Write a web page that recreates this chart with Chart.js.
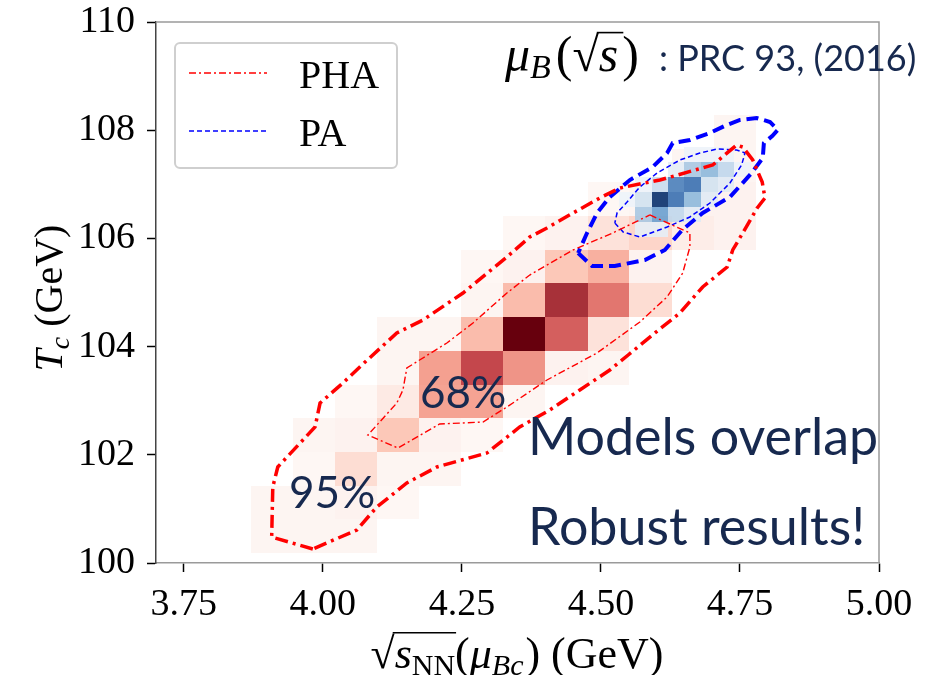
<!DOCTYPE html>
<html>
<head>
<meta charset="utf-8">
<script src="https://cdn.jsdelivr.net/npm/chart.js@4.4.0/dist/chart.umd.min.js"></script>
<style>
  body { margin: 0; background: #fff; }
</style>
</head>
<body>
<canvas id="tcChart" width="936" height="675"></canvas>
<script>
// ticks
const xTicks = [3.75, 4.00, 4.25, 4.50, 4.75, 5.00];
const yTicks = [100, 102, 104, 106, 108, 110];

// PHA posterior histogram (rows bottom -> top)
const redXEdges = [3.870, 3.946, 4.021, 4.097, 4.173, 4.248, 4.324, 4.400, 4.476, 4.551, 4.627, 4.703, 4.778];
const redYEdges = [100.185, 100.808, 101.431, 102.054, 102.677, 103.299, 103.922, 104.545, 105.168, 105.791, 106.414, 107.037, 107.660, 108.283];
const redDensity = [
  [0.03, 0.03, 0.03, 0, 0, 0, 0, 0, 0, 0, 0, 0],
  [0.03, 0.03, 0.04, 0.02, 0, 0, 0, 0, 0, 0, 0, 0],
  [0, 0.02, 0.12, 0.03, 0.03, 0, 0, 0, 0, 0, 0, 0],
  [0, 0.03, 0.04, 0.20, 0.04, 0.02, 0, 0, 0, 0, 0, 0],
  [0, 0, 0.02, 0.07, 0.38, 0.38, 0.03, 0, 0, 0, 0, 0],
  [0, 0, 0, 0.03, 0.40, 0.72, 0.45, 0.04, 0.03, 0, 0, 0],
  [0, 0, 0, 0.03, 0.03, 0.25, 1.00, 0.65, 0.10, 0, 0, 0],
  [0, 0, 0, 0, 0, 0.03, 0.25, 0.82, 0.58, 0.12, 0, 0],
  [0, 0, 0, 0, 0, 0.02, 0.04, 0.20, 0.30, 0.04, 0, 0],
  [0, 0, 0, 0, 0, 0, 0.02, 0.04, 0.10, 0.15, 0.06, 0.04],
  [0, 0, 0, 0, 0, 0, 0, 0, 0.02, 0.03, 0.04, 0.04],
  [0, 0, 0, 0, 0, 0, 0, 0, 0, 0, 0.03, 0.03],
  [0, 0, 0, 0, 0, 0, 0, 0, 0, 0, 0, 0.03]
];

// PA posterior histogram (rows bottom -> top)
const blueXEdges = [4.502, 4.532, 4.5615, 4.5915, 4.6214, 4.650, 4.680, 4.710, 4.740, 4.770];
const blueYEdges = [106.031, 106.309, 106.586, 106.863, 107.141, 107.418, 107.695];
const blueDensity = [
  [0, 0, 0.05, 0.05, 0, 0, 0, 0, 0],
  [0, 0, 0.35, 0.55, 0.25, 0.08, 0, 0, 0],
  [0, 0.03, 0.15, 1.00, 0.75, 0.45, 0.08, 0, 0],
  [0, 0, 0.03, 0.20, 0.70, 0.75, 0.15, 0.08, 0],
  [0, 0, 0, 0, 0.06, 0.35, 0.45, 0.25, 0.03],
  [0, 0, 0, 0, 0, 0.03, 0.03, 0.03, 0]
];

// credible-region contours
const pha95X = [3.982, 3.908, 3.910, 3.919, 3.986, 3.995, 4.036, 4.076, 4.133, 4.180, 4.252, 4.331, 4.372, 4.403, 4.450, 4.498, 4.534, 4.606, 4.701, 4.744, 4.755, 4.773, 4.790, 4.795, 4.781, 4.755, 4.737, 4.727, 4.683, 4.642, 4.597, 4.549, 4.516, 4.462, 4.408, 4.354, 4.295, 4.205, 4.151, 4.097, 4.061, 3.982];
const pha95Y = [100.259, 100.481, 101.405, 101.775, 102.514, 102.957, 103.327, 103.715, 104.251, 104.492, 104.991, 105.656, 106.026, 106.192, 106.470, 106.747, 106.932, 107.079, 107.357, 107.726, 107.689, 107.449, 107.043, 106.747, 106.562, 106.100, 105.786, 105.471, 105.102, 104.621, 104.251, 103.845, 103.567, 103.198, 102.828, 102.514, 102.033, 101.775, 101.479, 101.035, 100.610, 100.259];
const pha68X = [4.588, 4.660, 4.660, 4.647, 4.619, 4.570, 4.493, 4.403, 4.331, 4.288, 4.210, 4.135, 4.081, 4.133, 4.144, 4.151, 4.174, 4.223, 4.270, 4.331, 4.372, 4.450, 4.521, 4.588];
const pha68Y = [106.433, 106.100, 105.841, 105.360, 104.917, 104.455, 103.882, 103.383, 102.884, 102.606, 102.569, 102.126, 102.366, 102.957, 103.198, 103.604, 103.752, 104.067, 104.436, 104.991, 105.323, 105.786, 106.100, 106.433];
const pa95X = [4.459, 4.484, 4.525, 4.579, 4.615, 4.646, 4.683, 4.732, 4.771, 4.791, 4.793, 4.808, 4.818, 4.804, 4.780, 4.750, 4.726, 4.696, 4.660, 4.629, 4.619, 4.593, 4.552, 4.516, 4.493, 4.475, 4.459];
const pa95Y = [105.730, 105.490, 105.490, 105.601, 105.786, 106.155, 106.470, 106.765, 107.209, 107.486, 107.763, 107.893, 108.004, 108.152, 108.226, 108.189, 108.096, 107.948, 107.819, 107.763, 107.578, 107.320, 107.079, 106.765, 106.470, 106.100, 105.730];
const pa68X = [4.525, 4.540, 4.570, 4.619, 4.660, 4.696, 4.732, 4.753, 4.759, 4.744, 4.709, 4.678, 4.642, 4.601, 4.570, 4.547, 4.529, 4.525];
const pa68Y = [106.285, 106.118, 106.026, 106.211, 106.396, 106.654, 107.024, 107.357, 107.579, 107.634, 107.652, 107.578, 107.449, 107.209, 106.950, 106.673, 106.470, 106.285];

const legendLabels = ['PHA', 'PA'];

const navy = '#17294f';
const serif = '"Liberation Serif", "DejaVu Serif", serif';
const sans = 'Lato, "Open Sans", sans-serif';

const toPoints = (xs, ys) => xs.map((x, i) => ({ x: x, y: ys[i] }));

// colour ramps
const redStops = [[0, '#fffaf8'], [0.03, '#fdf5f2'], [0.1, '#fde2da'], [0.2, '#fcc8b8'], [0.3, '#f8b0a0'],
  [0.4, '#f4a090'], [0.6, '#e0716b'], [0.72, '#c4474c'], [0.85, '#9e2a33'], [1, '#67000d']];
const blueStops = [[0, '#f7fbff'], [0.05, '#e6eef6'], [0.15, '#d2e2f0'], [0.25, '#c0d7ec'], [0.35, '#a8c8e2'],
  [0.45, '#8db8da'], [0.55, '#6aa0cf'], [0.7, '#4a80ba'], [0.75, '#3a70b0'], [1, '#08306b']];

function hexRgb(h) {
  return [1, 3, 5].map(i => parseInt(h.substr(i, 2), 16));
}
function colorAt(stops, v) {
  for (let i = 1; i < stops.length; i++) {
    if (v <= stops[i][0]) {
      const [v0, c0] = stops[i - 1], [v1, c1] = stops[i];
      const t = (v - v0) / (v1 - v0);
      const a = hexRgb(c0), b = hexRgb(c1);
      return 'rgb(' + a.map((c, k) => Math.round(c + (b[k] - c) * t)).join(',') + ')';
    }
  }
  return stops[stops.length - 1][1];
}

function drawCells(ctx, xs, ys, xe, ye, z, stops) {
  z.forEach((row, j) => row.forEach((v, i) => {
    if (!v) return;
    const x0 = Math.round(xs.getPixelForValue(xe[i])), x1 = Math.round(xs.getPixelForValue(xe[i + 1]));
    const y0 = Math.round(ys.getPixelForValue(ye[j])), y1 = Math.round(ys.getPixelForValue(ye[j + 1]));
    ctx.fillStyle = colorAt(stops, v);
    ctx.fillRect(x0, y1, x1 - x0, y0 - y1);
  }));
}

const heatmapPlugin = {
  id: 'heatmap',
  beforeDatasetsDraw(chart) {
    const { ctx, scales } = chart;
    ctx.save();
    drawCells(ctx, scales.x, scales.y, redXEdges, redYEdges, redDensity, redStops);
    ctx.globalAlpha = 0.9;
    drawCells(ctx, scales.x, scales.y, blueXEdges, blueYEdges, blueDensity, blueStops);
    ctx.restore();
  }
};

// text made of runs: {t, size, italic, dy, color, fam, sqrt, barEnd}
function runFont(r) {
  return (r.italic ? 'italic ' : '') + r.size + 'px ' + (r.fam || serif);
}
function drawRuns(ctx, runs, x, y, align) {
  let w = 0;
  runs.forEach(r => { ctx.font = runFont(r); r.w = ctx.measureText(r.t).width + (r.gap || 0); w += r.w; });
  let cx = align === 'center' ? x - w / 2 : x;
  let barX = null, barY = 0;
  ctx.textBaseline = 'alphabetic';
  ctx.textAlign = 'left';
  runs.forEach(r => {
    ctx.font = runFont(r);
    ctx.fillStyle = r.color || '#000';
    ctx.fillText(r.t, cx, y + (r.dy || 0));
    if (r.sqrt) { barX = cx + r.w * 0.92; barY = y - r.size * 0.80; }
    cx += r.w;
    if (r.barEnd && barX !== null) {
      ctx.save();
      ctx.strokeStyle = '#000';
      ctx.lineWidth = 1.6;
      ctx.beginPath();
      ctx.moveTo(barX, barY);
      ctx.lineTo(cx + 1, barY);
      ctx.stroke();
      ctx.restore();
      barX = null;
    }
  });
}

const decorPlugin = {
  id: 'decor',
  afterDraw(chart) {
    const { ctx, chartArea: a } = chart;
    ctx.save();

    // top and right spines
    ctx.strokeStyle = '#9a9a9a';
    ctx.lineWidth = 1.5;
    ctx.beginPath();
    ctx.moveTo(a.left, a.top);
    ctx.lineTo(a.right, a.top);
    ctx.lineTo(a.right, a.bottom);
    ctx.stroke();

    // legend
    ctx.fillStyle = 'rgba(255,255,255,0.85)';
    ctx.strokeStyle = '#cfcfcf';
    ctx.lineWidth = 2;
    ctx.beginPath();
    ctx.roundRect(175, 43, 222, 125, 5);
    ctx.fill();
    ctx.stroke();
    [1, 3].forEach((di, k) => {
      const ds = chart.data.datasets[di];
      const ly = 73 + k * 58;
      ctx.strokeStyle = ds.borderColor;
      ctx.lineWidth = ds.borderWidth;
      ctx.setLineDash(ds.borderDash);
      ctx.beginPath();
      ctx.moveTo(189, ly);
      ctx.lineTo(267, ly);
      ctx.stroke();
      ctx.setLineDash([]);
      ctx.fillStyle = '#000';
      ctx.font = '40px ' + serif;
      ctx.textBaseline = 'alphabetic';
      ctx.fillText(legendLabels[k], 299, ly + 15);
    });

    // reference note
    drawRuns(ctx, [
      { t: 'μ', size: 50, italic: true },
      { t: 'B', size: 34, italic: true, dy: 7, gap: 5 },
      { t: '(', size: 50 },
      { t: '√', size: 48, sqrt: true },
      { t: 's', size: 50, italic: true, barEnd: true, gap: 4 },
      { t: ')', size: 50, gap: 20 },
      { t: ': PRC 93, (2016)', size: 36, fam: sans, color: navy }
    ], 505, 71, 'left');

    // annotations
    ctx.fillStyle = navy;
    ctx.textBaseline = 'alphabetic';
    ctx.font = '44px ' + sans;
    ctx.fillText('68%', 420, 408);
    ctx.fillText('95%', 289, 508);
    ctx.font = '52px ' + sans;
    ctx.fillText('Models overlap', 528, 455);
    ctx.fillText('Robust results!', 528, 545);

    // axis titles
    drawRuns(ctx, [
      { t: '√', size: 44, sqrt: true },
      { t: 's', size: 44, italic: true },
      { t: 'NN', size: 30, dy: 7, barEnd: true },
      { t: '(', size: 44 },
      { t: 'μ', size: 44, italic: true },
      { t: 'Bc', size: 30, italic: true, dy: 7, gap: 2 },
      { t: ')', size: 44 },
      { t: ' (GeV)', size: 44 }
    ], 517, 668, 'center');

    ctx.translate(62, 298);
    ctx.rotate(-Math.PI / 2);
    drawRuns(ctx, [
      { t: 'T', size: 40, italic: true },
      { t: 'c', size: 28, italic: true, dy: 7 },
      { t: ' (GeV)', size: 40 }
    ], 0, 0, 'center');

    ctx.restore();
  }
};

const contour = (label, xs, ys, color, width, dash) => ({
  label: label,
  data: toPoints(xs, ys),
  showLine: true,
  borderColor: color,
  borderWidth: width,
  borderDash: dash,
  pointRadius: 0,
  tension: 0,
  fill: false
});

new Chart(document.getElementById('tcChart'), {
  type: 'scatter',
  data: {
    datasets: [
      contour('PHA 95%', pha95X, pha95Y, '#ff0000', 3.5, [13, 5, 3, 5]),
      contour('PHA 68%', pha68X, pha68Y, '#ff0000', 1.4, [7, 3, 2, 3]),
      contour('PA 95%', pa95X, pa95Y, '#0000ff', 4, [12, 6]),
      contour('PA 68%', pa68X, pa68Y, '#0000ff', 1.5, [5, 3])
    ]
  },
  options: {
    responsive: false,
    devicePixelRatio: 1,
    animation: false,
    layout: { padding: { top: 22, right: 57, left: 0, bottom: 0 } },
    plugins: { legend: { display: false }, tooltip: { enabled: false } },
    scales: {
      x: {
        type: 'linear',
        min: 3.7,
        max: 5.0,
        afterBuildTicks: s => { s.ticks = xTicks.map(v => ({ value: v })); },
        afterFit: s => { s.height = 112; s.paddingLeft = 0; s.paddingRight = 0; },
        ticks: {
          color: '#000',
          padding: 10,
          maxRotation: 0,
          font: { family: serif, size: 38 },
          callback: v => v.toFixed(2)
        },
        grid: { drawOnChartArea: false, tickLength: 9, tickColor: '#000', tickWidth: 1.5 },
        border: { color: '#9a9a9a', width: 1.5 }
      },
      y: {
        type: 'linear',
        min: 100,
        max: 110,
        afterBuildTicks: s => { s.ticks = yTicks.map(v => ({ value: v })); },
        afterFit: s => { s.width = 156; s.paddingTop = 0; s.paddingBottom = 0; },
        ticks: {
          color: '#000',
          padding: 12,
          font: { family: serif, size: 38 },
          callback: v => String(v)
        },
        grid: { drawOnChartArea: false, tickLength: 9, tickColor: '#000', tickWidth: 1.5 },
        border: { color: '#444', width: 1.5 }
      }
    }
  },
  plugins: [heatmapPlugin, decorPlugin]
});
</script>
</body>
</html>
